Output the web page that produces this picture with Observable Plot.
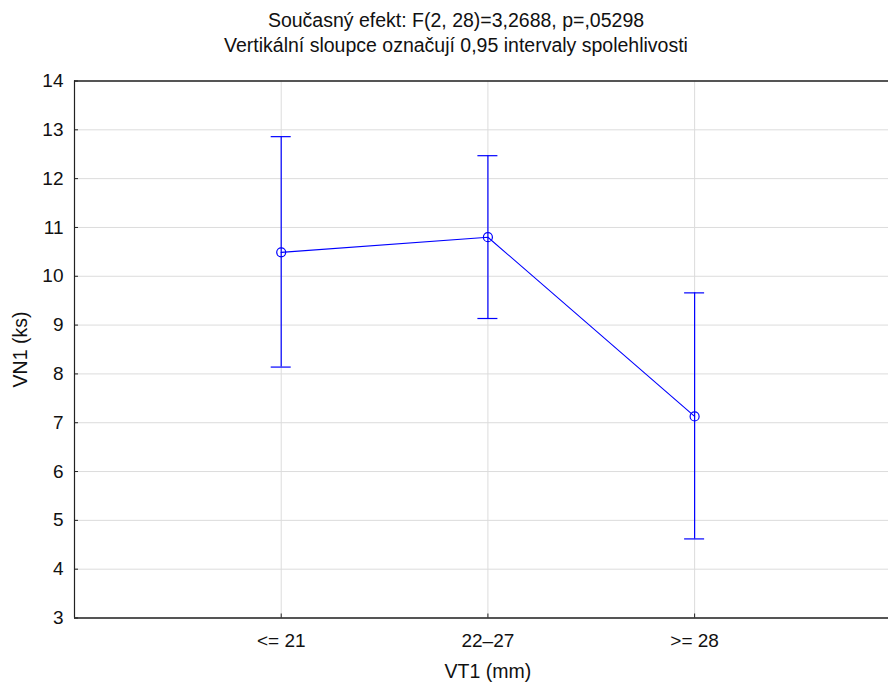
<!DOCTYPE html>
<html>
<head>
<meta charset="utf-8">
<script src="https://cdn.jsdelivr.net/npm/d3@7"></script>
<script src="https://cdn.jsdelivr.net/npm/@observablehq/plot@0.6"></script>
<style>
  html, body { margin: 0; padding: 0; background: #fff; overflow: hidden; }
  #title { width: 888px; height: 60px; padding-top: 8px; padding-left: 24px; box-sizing: border-box;
           text-align: center; font-family: "Liberation Sans", Arial, sans-serif; font-size: 19.5px;
           line-height: 25px; color: #111; }
  #chart svg { display: block; font-family: "Liberation Sans", Arial, sans-serif; }
</style>
</head>
<body>
<div id="title">Současný efekt: F(2, 28)=3,2688, p=,05298<br>Vertikální sloupce označují 0,95 intervaly spolehlivosti</div>
<div id="chart"></div>
<script>
const categories = ["<= 21", "22–27", ">= 28"];
const means = [10.49, 10.80, 7.13];
const lower = [8.14, 9.135, 4.62];
const upper = [12.86, 12.47, 9.66];
const yTicks = [3, 4, 5, 6, 7, 8, 9, 10, 11, 12, 13, 14];
const xLabel = "VT1 (mm)";
const yLabel = "VN1 (ks)";

const positions = categories.map((c, i) => i + 1);
const data = categories.map((c, i) => ({pos: positions[i], cat: c, mean: means[i], lo: lower[i], hi: upper[i]}));

const blue = "#0000ff";
const grid = "#dcdcdc";
const axisColor = "#222";

const chart = Plot.plot({
  width: 888,
  height: 622,
  marginLeft: 74,
  marginRight: 0,
  marginTop: 20.5,
  marginBottom: 64.5,
  style: {fontSize: "19px", fontFamily: "Liberation Sans, Arial, sans-serif", color: "#111", background: "#fff"},
  x: {type: "linear", domain: [0, 3.938]},
  y: {domain: [3, 14]},
  marks: [
    Plot.gridY(yTicks, {stroke: grid, strokeOpacity: 1}),
    Plot.gridX(positions, {stroke: grid, strokeOpacity: 1}),
    Plot.ruleX([0], {stroke: axisColor, strokeWidth: 1.2}),
    Plot.ruleY([14], {stroke: axisColor, strokeWidth: 1.6}),
    Plot.ruleY([3], {stroke: axisColor, strokeWidth: 1.6}),
    Plot.axisY(yTicks, {tickSize: 4, dx: 4, text: null, label: null, stroke: axisColor}),
    Plot.axisY(yTicks, {tickSize: 0, tickPadding: 11, label: null, fill: "#111"}),
    Plot.axisX(positions, {tickSize: 4, dy: -4, text: null, label: null, stroke: axisColor}),
    Plot.axisX(positions, {tickSize: 0, tickPadding: 15, label: null, fill: "#111",
      tickFormat: (d) => categories[d - 1]}),
    Plot.text([xLabel], {x: () => 2, frameAnchor: "bottom", dy: 54, lineAnchor: "middle", fill: "#111", fontSize: 19.5}),
    Plot.text([yLabel], {frameAnchor: "left", rotate: -90, dx: -54, textAnchor: "middle", lineAnchor: "middle", fill: "#111", fontSize: 19.5}),
    Plot.ruleX(data, {x: "pos", y1: "lo", y2: "hi", stroke: blue, strokeWidth: 1.2}),
    Plot.ruleY(data, {y: "hi", x1: "pos", x2: "pos", insetLeft: -10, insetRight: -10, stroke: blue, strokeWidth: 1.2}),
    Plot.ruleY(data, {y: "lo", x1: "pos", x2: "pos", insetLeft: -10, insetRight: -10, stroke: blue, strokeWidth: 1.2}),
    Plot.line(data, {x: "pos", y: "mean", stroke: blue, strokeWidth: 1.1}),
    Plot.dot(data, {x: "pos", y: "mean", r: 4.5, stroke: blue, fill: "none", strokeWidth: 1.2})
  ]
});
document.getElementById("chart").appendChild(chart);
</script>
</body>
</html>
